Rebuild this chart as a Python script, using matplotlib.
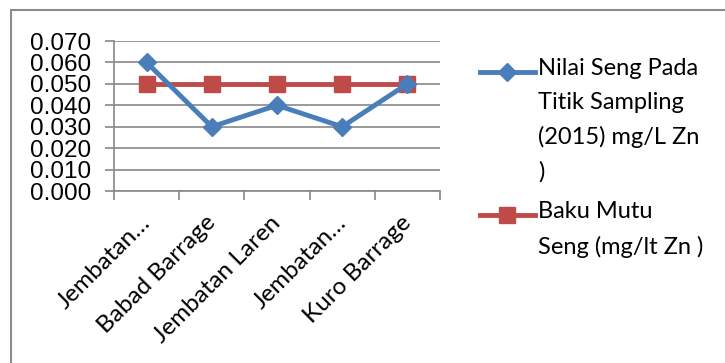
import matplotlib.pyplot as plt
from matplotlib.lines import Line2D
from matplotlib.patches import Rectangle

# Data
locations = ['Jembatan…', 'Babad Barrage', 'Jembatan Laren', 'Jembatan…', 'Kuro Barrage']
zinc_2015 = [0.060, 0.030, 0.040, 0.030, 0.050]
zinc_standard = [0.050, 0.050, 0.050, 0.050, 0.050]
y_ticks = [0.000, 0.010, 0.020, 0.030, 0.040, 0.050, 0.060, 0.070]
legend_labels = ['Nilai Seng Pada\nTitik Sampling\n(2015) mg/L Zn\n)',
                 'Baku Mutu\nSeng (mg/lt Zn )']

BLUE = '#4a7ebb'
RED = '#be4b48'
GRID = '#888888'
W, H = 725, 363


def fx(x):
    return x / W


def fy(y):
    return 1 - y / H


fig = plt.figure(figsize=(W / 100, H / 100), dpi=100)

# chart frame
fig.patches.append(Rectangle((fx(11), fy(400)), fx(730), 390 / H,
                             transform=fig.transFigure, fill=False,
                             edgecolor='#8c8c8c', linewidth=1.5))

ax = fig.add_axes([fx(114), fy(191), fx(440) - fx(114), fy(41) - fy(191)])

x = [i + 0.5 for i in range(len(locations))]
ax.plot(x, zinc_2015, color=BLUE, lw=3.5, marker='D', ms=9.5, zorder=3)
ax.plot(x, zinc_standard, color=RED, lw=3.5, marker='s', ms=12, zorder=2)

ax.set_xlim(0, len(locations))
ax.set_ylim(0, 0.070)
ax.set_yticks(y_ticks)
ax.set_yticklabels([f'{v:.3f}' for v in y_ticks],
                   fontfamily='Liberation Sans', fontsize=17.5)
ax.yaxis.grid(True, color=GRID, lw=1.2)
ax.set_axisbelow(True)

ax.set_xticks(range(len(locations) + 1))
ax.set_xticklabels([])
ax.tick_params(axis='both', color=GRID, width=1.2, length=6.5)
ax.tick_params(axis='y', pad=10)

for side in ['top', 'right']:
    ax.spines[side].set_visible(False)
for side in ['left', 'bottom']:
    ax.spines[side].set_color(GRID)
    ax.spines[side].set_linewidth(1.2)

# rotated category labels
for xi, label in zip(x, locations):
    ax.annotate(label, xy=(xi, 0), xycoords=('data', 'axes fraction'),
                xytext=(-5, -15), textcoords='offset points',
                rotation=45, rotation_mode='anchor', ha='right', va='top',
                fontfamily='Lato', fontsize=17.5)

# legend drawn by hand so the handle sits on the first text line
legend_rows = [(72, BLUE, 'D', 9.5, legend_labels[0]),
               (215, RED, 's', 12, legend_labels[1])]
for y, color, marker, ms, label in legend_rows:
    fig.add_artist(Line2D([fx(480), fx(535)], [fy(y), fy(y)], color=color,
                          lw=3.5, transform=fig.transFigure))
    fig.add_artist(Line2D([fx(507)], [fy(y)], color=color, marker=marker,
                          ms=ms, transform=fig.transFigure))
    fig.text(fx(538), fy(y - 14), label, ha='left', va='top',
             fontfamily='Lato', fontsize=17, linespacing=1.75)

fig.savefig('out.png', dpi=100)
